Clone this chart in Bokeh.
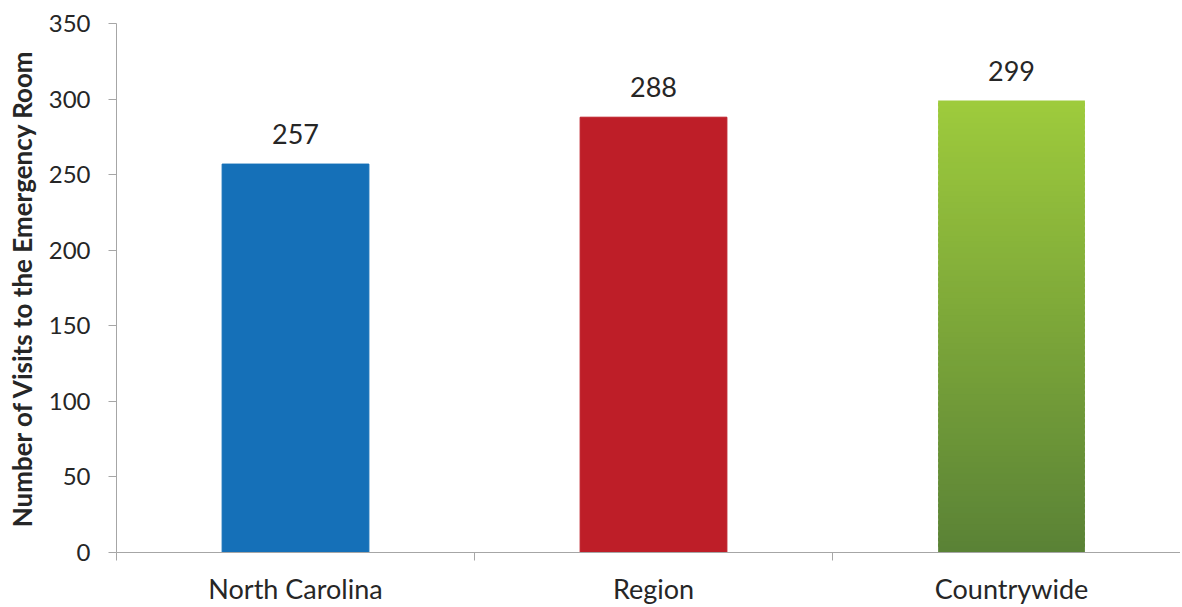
import numpy as np
from bokeh.plotting import figure
from bokeh.models import FixedTicker, Range1d, ColumnDataSource
from bokeh.core.properties import value
from bokeh.embed import file_html
from bokeh.resources import INLINE

categories = ["North Carolina", "Region", "Countrywide"]
visits = [257, 288, 299]
colors = ["#1570b8", "#be1e28", None]
green_top = "#9ecb3c"
green_bottom = "#5a8236"
y_ticks = [0, 50, 100, 150, 200, 250, 300, 350]

FONT = "Lato"
AXIS_COLOR = "#a6a6a6"
TEXT_COLOR = "#262626"

n = len(categories)
centers = [i + 0.5 for i in range(n)]
bar_w = 0.41

p = figure(width=1180, height=607, output_backend="svg", toolbar_location=None,
           x_range=Range1d(0, 2.972), y_range=Range1d(0, 350),
           min_border_left=116, min_border_right=0, min_border_top=23, min_border_bottom=53)
p.outline_line_color = None
p.grid.grid_line_color = None
p.background_fill_color = "white"

# solid bars
solid = [(c, v, col) for c, v, col in zip(centers, visits, colors) if col is not None]
src = ColumnDataSource(dict(x=[s[0] for s in solid], top=[s[1] for s in solid],
                            color=[s[2] for s in solid]))
p.vbar(x="x", top="top", width=bar_w, bottom=0, color="color", source=src)

# gradient bar (stacked, overlapping thin slices)
def hex2rgb(h):
    h = h.lstrip("#")
    return np.array([int(h[i:i + 2], 16) for i in (0, 2, 4)], dtype=float)

top_rgb, bot_rgb = hex2rgb(green_top), hex2rgb(green_bottom)
for c, v, col in zip(centers, visits, colors):
    if col is None:
        nslices = 80
        edges = np.linspace(0, v, nslices + 1)
        step = v / nslices
        tops = np.minimum(edges[1:] + step * 0.6, v)
        fr = (np.arange(nslices) + 0.5) / nslices
        cols = ["#%02x%02x%02x" % tuple(int(round(x)) for x in bot_rgb + (top_rgb - bot_rgb) * f) for f in fr]
        p.quad(left=c - bar_w / 2, right=c + bar_w / 2, bottom=edges[:-1], top=tops,
               fill_color=cols, line_color=None)

# value labels
p.text(x=centers, y=visits, text=[str(v) for v in visits], text_align="center",
       text_baseline="alphabetic", y_offset=-30, text_font=value(FONT), text_font_size="27px",
       text_color=TEXT_COLOR)

# y axis
ya = p.yaxis[0]
ya.ticker = FixedTicker(ticks=y_ticks)
ya.axis_line_color = AXIS_COLOR
ya.major_tick_line_color = AXIS_COLOR
ya.major_tick_out = 8
ya.major_tick_in = 0
ya.minor_tick_line_color = None
ya.major_label_text_font = FONT
ya.major_label_text_font_size = "24px"
ya.major_label_text_color = TEXT_COLOR
ya.major_label_standoff = 18
ya.axis_label = "Number of Visits to the Emergency Room"
ya.axis_label_text_font = FONT
ya.axis_label_text_font_style = "bold"
ya.axis_label_text_font_size = "26px"
ya.axis_label_text_color = TEXT_COLOR
ya.axis_label_standoff = 8

# x axis
xa = p.xaxis[0]
xa.ticker = FixedTicker(ticks=centers, minor_ticks=[float(i) for i in range(n + 1)])
xa.major_label_overrides = {c: cat for c, cat in zip(centers, categories)}
xa.axis_line_color = AXIS_COLOR
xa.major_tick_line_color = None
xa.major_tick_out = 0
xa.major_tick_in = 0
xa.minor_tick_line_color = AXIS_COLOR
xa.minor_tick_out = 8
xa.minor_tick_in = 0
xa.major_label_text_font = FONT
xa.major_label_text_font_size = "27px"
xa.major_label_text_color = TEXT_COLOR
xa.major_label_standoff = 11

open("out.html", "w").write(file_html(p, INLINE))
